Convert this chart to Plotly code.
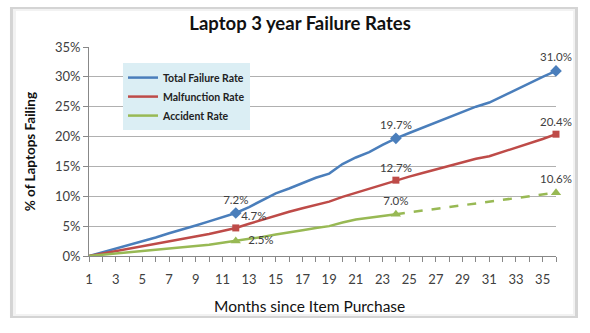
import plotly.graph_objects as go

months = list(range(1, 37))
total_rate = [0, 0.6, 1.2, 1.9, 2.5, 3.1, 3.8, 4.4, 5.1, 5.8, 6.5, 7.2,
              8.2, 9.3, 10.5, 11.3, 12.2, 13.1, 13.8, 15.4, 16.5, 17.4, 18.6, 19.7,
              20.6, 21.5, 22.4, 23.2, 24.1, 25.0, 25.7, 26.8, 27.9, 28.9, 30.0, 31.0]
malfunction_rate = [0, 0.4, 0.8, 1.2, 1.6, 2.0, 2.4, 2.8, 3.3, 3.7, 4.2, 4.7,
                    5.4, 6.1, 6.8, 7.4, 8.0, 8.5, 9.1, 9.9, 10.6, 11.3, 12.0, 12.7,
                    13.3, 13.9, 14.5, 15.1, 15.7, 16.3, 16.7, 17.4, 18.1, 18.9, 19.6, 20.4]
accident_months = list(range(1, 25))
accident_rate = [0, 0.2, 0.4, 0.6, 0.8, 1.0, 1.2, 1.4, 1.7, 1.9, 2.2, 2.5,
                 2.8, 3.2, 3.6, 3.9, 4.3, 4.7, 5.0, 5.6, 6.1, 6.4, 6.7, 7.0]
accident_proj_months = [24, 36]
accident_proj_rate = [7.0, 10.6]

marker_months = [12, 24, 36]
total_marks = [7.2, 19.7, 31.0]
malf_marks = [4.7, 12.7, 20.4]
acc_marks = [2.5, 7.0, 10.6]

series_names = ["Total Failure Rate", "Malfunction Rate", "Accident Rate"]
colors = ["#4a7ebb", "#be4b48", "#98b954"]

FONT = "Lato"
TXT = "#404040"
LBL = dict(size=11.5, color=TXT, family=FONT)

fig = go.Figure()
fig.add_trace(go.Scatter(x=months, y=total_rate, mode="lines", name=series_names[0],
                         line=dict(color=colors[0], width=2.5)))
fig.add_trace(go.Scatter(x=months, y=malfunction_rate, mode="lines", name=series_names[1],
                         line=dict(color=colors[1], width=2.5)))
fig.add_trace(go.Scatter(x=accident_months, y=accident_rate, mode="lines", name=series_names[2],
                         line=dict(color=colors[2], width=2.5)))
fig.add_trace(go.Scatter(x=accident_proj_months, y=accident_proj_rate, mode="lines", showlegend=False,
                         line=dict(color=colors[2], width=2.5, dash="dash")))

def lbl(vals):
    return [f"{v:.1f}%" for v in vals]

fig.add_trace(go.Scatter(x=marker_months, y=total_marks, mode="markers+text", showlegend=False,
                         marker=dict(symbol="diamond", size=9, color=colors[0]), cliponaxis=False,
                         text=lbl(total_marks), textposition="top center", textfont=LBL))
fig.add_trace(go.Scatter(x=marker_months, y=malf_marks, mode="markers+text", showlegend=False,
                         marker=dict(symbol="square", size=7, color=colors[1]), cliponaxis=False,
                         text=lbl(malf_marks), textposition=["top right", "top center", "top center"],
                         textfont=LBL))
fig.add_trace(go.Scatter(x=marker_months, y=acc_marks, mode="markers+text", showlegend=False,
                         marker=dict(symbol="triangle-up", size=9, color=colors[2]), cliponaxis=False,
                         text=["  " + t for t in lbl(acc_marks)[:1]] + lbl(acc_marks)[1:],
                         textposition=["middle right", "top center", "top center"],
                         textfont=LBL))

# card background (bevel)
fig.add_shape(type="rect", xref="paper", yref="paper", x0=-0.1692, x1=1.0471, y0=-0.2967, y1=1.1914,
              fillcolor="#d4d4d4", line=dict(width=0), layer="below")
fig.add_shape(type="rect", xref="paper", yref="paper", x0=-0.1628, x1=1.0407, y0=-0.2871, y1=1.1818,
              fillcolor="#f2f2f2", line=dict(width=0), layer="below")
fig.add_shape(type="rect", xref="paper", yref="paper", x0=-0.1563, x1=1.0364, y0=-0.2775, y1=1.1722,
              fillcolor="white", line=dict(width=0), layer="below")

fig.add_annotation(text="<b>% of Laptops Failing</b>", xref="paper", yref="paper", x=-0.126, y=0.497,
                   xanchor="center", yanchor="middle",
                   textangle=-90, showarrow=False, font=dict(size=13.5, color="#111", family=FONT))
fig.add_annotation(text="Months since Item Purchase", xref="paper", yref="paper", x=0.473, y=-0.239,
                   xanchor="center", yanchor="middle",
                   showarrow=False, font=dict(size=15.5, color="#111", family=FONT))

fig.update_layout(
    width=590, height=333,
    margin=dict(l=89, r=34, t=47, b=77),
    paper_bgcolor="white", plot_bgcolor="rgba(0,0,0,0)",
    font=dict(family=FONT, color=TXT, size=13),
    title=dict(text="<b>Laptop 3 year Failure Rates</b>", x=0.452, xref="paper", xanchor="center",
               y=1 - 24 / 333, yref="container", yanchor="middle",
               font=dict(size=18.5, color="#111", family=FONT)),
    legend=dict(x=0.0728, y=0.923, xanchor="left", yanchor="top", bgcolor="#dbeef4",
                font=dict(size=10.5, color="#222", family=FONT, weight="bold"), tracegroupgap=0,
                itemwidth=30, borderwidth=0),
    xaxis=dict(range=[1, 36], tick0=1, dtick=2, ticks="outside", ticklen=5, tickcolor="#888",
               showline=True, linecolor="#888", linewidth=1, showgrid=False, zeroline=False,
               tickfont=dict(size=13, color=TXT), ticklabelstandoff=6,
               minor=dict(dtick=1, tick0=1, ticks="outside", ticklen=5, tickcolor="#888")),
    yaxis=dict(range=[0, 35], dtick=5, ticksuffix="%", ticks="outside", ticklen=5, tickcolor="#888",
               showline=True, linecolor="#888", linewidth=1, showgrid=True, gridcolor="#b0b0b0",
               gridwidth=1, zeroline=False, tickfont=dict(size=13, color=TXT)),
)

fig.write_html("out.html")
